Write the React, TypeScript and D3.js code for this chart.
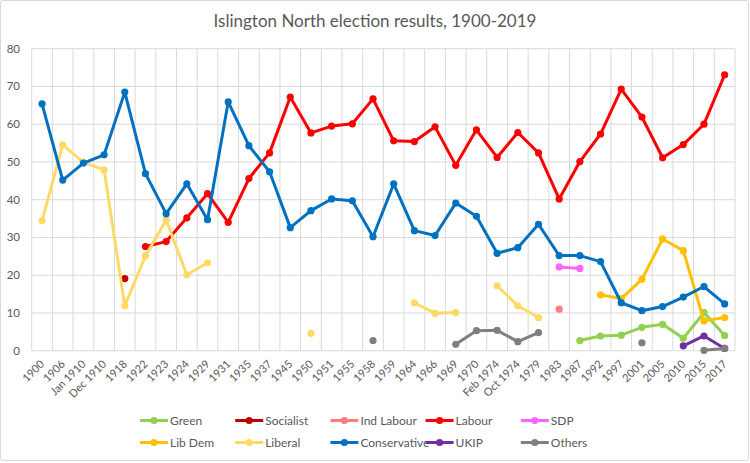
import React from "react";
import * as d3 from "d3";

const categories = [
  "1900", "1906", "Jan 1910", "Dec 1910", "1918", "1922", "1923", "1924", "1929", "1931",
  "1935", "1937", "1945", "1950", "1951", "1955", "1958", "1959", "1964", "1966",
  "1969", "1970", "Feb 1974", "Oct 1974", "1979", "1983", "1987", "1992", "1997", "2001",
  "2005", "2010", "2015", "2017",
];

const _ = null;

const green = [_, _, _, _, _, _, _, _, _, _, _, _, _, _, _, _, _, _, _, _, _, _, _, _, _, _, 2.7, 3.9, 4.1, 6.2, 7.0, 3.3, 10.1, 4.0];
const socialist = [_, _, _, _, 19.1, _, _, _, _, _, _, _, _, _, _, _, _, _, _, _, _, _, _, _, _, _, _, _, _, _, _, _, _, _];
const indLabour = [_, _, _, _, _, _, _, _, _, _, _, _, _, _, _, _, _, _, _, _, _, _, _, _, _, 11.0, _, _, _, _, _, _, _, _];
const labour = [_, _, _, _, _, 27.6, 28.9, 35.2, 41.6, 34.0, 45.6, 52.4, 67.2, 57.7, 59.5, 60.1, 66.7, 55.6, 55.4, 59.3, 49.1, 58.5, 51.2, 57.8, 52.4, 40.2, 50.1, 57.4, 69.3, 61.9, 51.1, 54.6, 60.0, 73.1];
const sdp = [_, _, _, _, _, _, _, _, _, _, _, _, _, _, _, _, _, _, _, _, _, _, _, _, _, 22.2, 21.8, _, _, _, _, _, _, _];
const libDem = [_, _, _, _, _, _, _, _, _, _, _, _, _, _, _, _, _, _, _, _, _, _, _, _, _, _, _, 14.8, 13.8, 18.9, 29.6, 26.5, 7.9, 8.8];
const liberal = [34.4, 54.5, 49.9, 47.9, 11.9, 25.1, 34.6, 20.1, 23.3, _, _, _, _, 4.6, _, _, _, _, 12.7, 9.9, 10.1, _, 17.2, 11.9, 8.8, _, _, _, _, _, _, _, _, _];
const conservative = [65.4, 45.2, 49.7, 51.9, 68.5, 46.9, 36.3, 44.2, 34.7, 65.9, 54.3, 47.4, 32.6, 37.1, 40.2, 39.7, 30.2, 44.2, 31.8, 30.5, 39.1, 35.6, 25.8, 27.3, 33.5, 25.2, 25.2, 23.6, 12.7, 10.6, 11.7, 14.2, 17.0, 12.4];
const ukip = [_, _, _, _, _, _, _, _, _, _, _, _, _, _, _, _, _, _, _, _, _, _, _, _, _, _, _, _, _, _, _, 1.3, 3.9, 0.6];
const others = [_, _, _, _, _, _, _, _, _, _, _, _, _, _, _, _, 2.7, _, _, _, 1.7, 5.3, 5.4, 2.4, 4.8, _, _, _, _, 2.1, _, _, 0.1, 0.6];

const yTicks = [0, 10, 20, 30, 40, 50, 60, 70, 80];

const series = [
  { name: "Green", color: "#92D050", values: green },
  { name: "Socialist", color: "#C00000", values: socialist },
  { name: "Ind Labour", color: "#FF7C80", values: indLabour },
  { name: "Labour", color: "#FF0000", values: labour },
  { name: "SDP", color: "#FF66FF", values: sdp },
  { name: "Lib Dem", color: "#FFC000", values: libDem },
  { name: "Liberal", color: "#FFD966", values: liberal },
  { name: "Conservative", color: "#0070C0", values: conservative },
  { name: "UKIP", color: "#7030A0", values: ukip },
  { name: "Others", color: "#7F7F7F", values: others },
];

const W = 750;
const H = 463;
const margin = { top: 48.7, right: 15, bottom: 112.3, left: 31.7 };
const font = "Lato, 'Open Sans', sans-serif";
const textColor = "#595959";

export default function App() {
  const x = d3
    .scaleBand<string>()
    .domain(categories)
    .range([margin.left, W - margin.right]);
  const y = d3
    .scaleLinear()
    .domain([0, 80])
    .range([H - margin.bottom, margin.top]);
  const cx = (i: number) => x(categories[i])! + x.bandwidth() / 2;

  const line = d3
    .line<number | null>()
    .defined((d) => d !== null)
    .x((_d, i) => cx(i))
    .y((d) => y(d as number));

  const gridXs = categories.map((c) => x(c)!).concat([W - margin.right]);

  return (
    <svg
      width={W}
      height={H}
      style={{ position: "absolute", left: 0, top: 0, background: "#fff" }}
      fontFamily={font}
    >
      <rect x={0.5} y={0.5} width={W - 2} height={H - 3} fill="#fff" stroke="#d9d9d9" rx={2} />
      <text x={375} y={27} textAnchor="middle" fontSize={17} fill={textColor}>
        Islington North election results, 1900-2019
      </text>

      {/* grid */}
      <g stroke="#d9d9d9" strokeWidth={1}>
        {yTicks.map((t) => (
          <line key={t} x1={margin.left} x2={W - margin.right} y1={y(t)} y2={y(t)} />
        ))}
        {gridXs.map((gx, i) => (
          <line key={i} x1={gx} x2={gx} y1={y(80)} y2={y(0)} />
        ))}
      </g>

      {/* y axis labels */}
      <g fontSize={11.5} fill={textColor} textAnchor="end">
        {yTicks.map((t) => (
          <text key={t} x={20} y={y(t) + 4}>
            {t}
          </text>
        ))}
      </g>

      {/* x axis labels */}
      <g fontSize={11} fill={textColor} textAnchor="end">
        {categories.map((c, i) => (
          <text key={c} transform={`translate(${cx(i) + 3},${y(0) + 14}) rotate(-45)`}>
            {c}
          </text>
        ))}
      </g>

      {/* series */}
      {series.map((s) => (
        <g key={s.name}>
          <path d={line(s.values) || ""} fill="none" stroke={s.color} strokeWidth={3} strokeLinejoin="round" />
          {s.values.map((v, i) =>
            v === null ? null : <circle key={i} cx={cx(i)} cy={y(v)} r={3.6} fill={s.color} />
          )}
        </g>
      ))}

      {/* legend */}
      <g fontSize={12} fill={textColor}>
        {series.map((s, i) => {
          const lx = 140 + (i % 5) * 95.2;
          const ly = 420.5 + Math.floor(i / 5) * 22;
          return (
            <g key={s.name}>
              <line x1={lx} x2={lx + 28} y1={ly} y2={ly} stroke={s.color} strokeWidth={3} />
              <circle cx={lx + 14} cy={ly} r={3.6} fill={s.color} />
              <text x={lx + 30} y={ly + 4}>
                {s.name}
              </text>
            </g>
          );
        })}
      </g>
    </svg>
  );
}
